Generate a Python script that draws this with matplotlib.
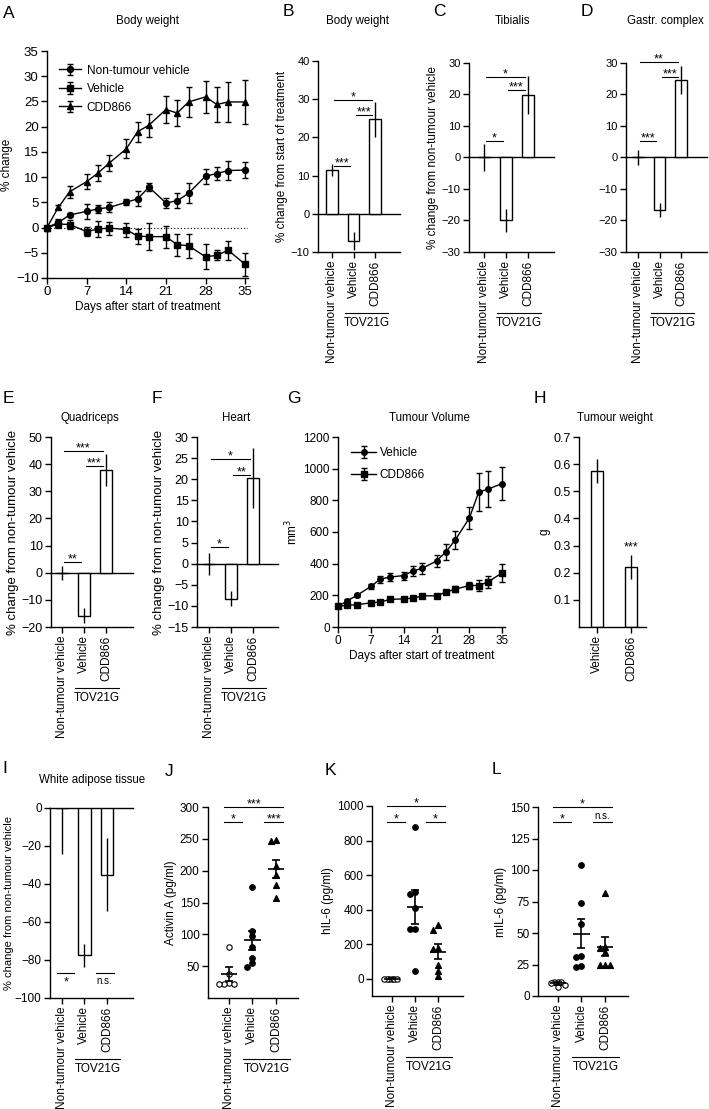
import numpy as np
import matplotlib
matplotlib.use('Agg')
import matplotlib.pyplot as plt
from matplotlib.transforms import offset_copy

plt.rcParams['font.family'] = ['Liberation Sans', 'DejaVu Sans']
plt.rcParams['axes.linewidth'] = 1.0
plt.rcParams['xtick.major.width'] = 1.0
plt.rcParams['ytick.major.width'] = 1.0

# ---------------- data ----------------
groups = ['Non-tumour vehicle', 'Vehicle', 'CDD866']

days = [0, 2, 4, 7, 9, 11, 14, 16, 18, 21, 23, 25, 28, 30, 32, 35]
bw_nontumour = [0, 1.0, 2.5, 3.2, 3.7, 4.0, 5.0, 5.7, 8.0, 4.9, 5.3, 6.8, 10.2, 10.7, 11.3, 11.4]
bw_nontumour_sem = [0.3, 0.6, 0.3, 1.5, 0.8, 1.0, 0.6, 1.5, 0.8, 1.0, 1.5, 2.0, 1.5, 1.3, 1.8, 1.5]
bw_vehicle = [0, 0.7, 0.6, -0.8, -0.3, -0.1, -0.4, -1.7, -1.8, -1.8, -3.4, -3.6, -5.8, -5.5, -4.5, -7.3]
bw_vehicle_sem = [0.3, 0.7, 0.8, 0.9, 1.6, 1.3, 1.4, 1.5, 2.7, 2.2, 2.2, 2.4, 2.5, 1.0, 1.9, 2.3]
bw_cdd866 = [0, 4.0, 7.1, 9.1, 10.8, 12.8, 15.6, 19.0, 20.3, 23.4, 22.7, 24.9, 25.9, 24.4, 24.9, 24.9]
bw_cdd866_sem = [0.2, 0.4, 1.2, 1.5, 1.6, 1.5, 1.9, 2.0, 2.3, 2.6, 2.5, 3.0, 3.1, 3.5, 3.9, 4.4]

tv_vehicle = [130, 166, 199, 256, 302, 315, 325, 354, 371, 417, 474, 550, 688, 852, 871, 906]
tv_vehicle_sem = [10, 10, 10, 15, 22, 25, 25, 30, 35, 40, 48, 55, 68, 120, 115, 103]
tv_cdd866 = [130, 138, 140, 153, 157, 174, 178, 182, 197, 197, 220, 239, 262, 262, 285, 342]
tv_cdd866_sem = [8, 8, 8, 8, 8, 10, 10, 10, 12, 12, 12, 18, 25, 35, 40, 55]

bw_end = [11.5, -7.1, 24.7]
bw_end_sem = [1.5, 2.4, 4.5]
tibialis = [0, -20.0, 19.8]
tibialis_sem = [4.2, 3.8, 6.0]
gastr = [0, -16.7, 24.5]
gastr_sem = [2.4, 2.2, 4.5]
quadriceps = [0, -15.8, 37.8]
quadriceps_sem = [2.5, 2.7, 6.0]
heart = [0, -8.3, 20.3]
heart_sem = [2.6, 1.8, 7.0]
wat = [0, -77.5, -35.0]
wat_sem = [24.0, 6.0, 19.0]

tumour_groups = ['Vehicle', 'CDD866']
tumour_weight = [0.575, 0.222]
tumour_weight_sem = [0.045, 0.045]

activin = [[80, 38, 24, 22, 22, 22],
           [175, 106, 98, 80, 63, 55, 49],
           [248, 247, 208, 193, 178, 157]]
activin_mean = [37, 91, 202]
activin_sem = [11, 15, 14]

hil6 = [[0, 0, 0, 0, 0, 0],
        [880, 505, 490, 410, 290, 290, 45],
        [310, 285, 180, 175, 80, 45, 15]]
hil6_mean = [0, 414, 157]
hil6_sem = [2, 100, 43]

mil6 = [[11, 11, 11, 10, 9, 7],
        [104, 74, 57, 32, 31, 24, 23],
        [82, 39, 38, 35, 25, 25, 25]]
mil6_mean = [10, 49.5, 39]
mil6_sem = [1, 11.5, 7.5]

# significance: (group i, group j, y, label)
sig_bw = [(0, 1, 12.6, '***'), (1, 2, 25.9, '***'), (0, 2, 29.8, '*')]
sig_tib = [(0, 1, 5.1, '*'), (1, 2, 21.3, '***'), (0, 2, 25.6, '*')]
sig_gas = [(0, 1, 5.1, '***'), (1, 2, 25.6, '***'), (0, 2, 30.3, '**')]
sig_quad = [(0, 1, 4.0, '**'), (1, 2, 39.3, '***'), (0, 2, 44.7, '***')]
sig_heart = [(0, 1, 4.0, '*'), (1, 2, 21.1, '**'), (0, 2, 24.7, '*')]
sig_wat = [(0, 1, -87, '*'), (1, 2, -87, 'n.s.')]
sig_act = [(0, 1, 276, '*'), (1, 2, 276, '***'), (0, 2, 300, '***')]
sig_hil6 = [(0, 1, 909, '*'), (1, 2, 909, '*'), (0, 2, 1000, '*')]
sig_mil6 = [(0, 1, 138, '*'), (1, 2, 138, 'n.s.'), (0, 2, 150, '*')]

# ---------------- figure ----------------
W, H = 709, 1109
fig = plt.figure(figsize=(W / 100, H / 100), dpi=100)


def px_ax(l, t, r, b):
    return fig.add_axes([l / W, 1 - b / H, (r - l) / W, (b - t) / H])


def style(ax, fs):
    ax.spines['top'].set_visible(False)
    ax.spines['right'].set_visible(False)
    ax.tick_params(direction='out', length=4, labelsize=fs, pad=2)


def letter(x, y, s):
    fig.text(x / W, 1 - y / H, s, fontsize=12.5, va='baseline', ha='left')


def title(x, y, s):
    fig.text(x / W, 1 - y / H, s, fontsize=8.3, va='baseline', ha='center')


def tov(ax):
    tr = offset_copy(ax.get_xaxis_transform(), fig=fig, y=-44, units='points')
    ax.plot([0.6, 2.6], [0, 0], color='k', lw=0.8, transform=tr, clip_on=False)
    tr2 = offset_copy(ax.get_xaxis_transform(), fig=fig, y=-46.5, units='points')
    ax.text(1.6, 0, 'TOV21G', transform=tr2, ha='center', va='top', fontsize=8.5)


def brackets(ax, sigs, kind='bar', below=False):
    for i, j, y, s in sigs:
        if kind == 'bar':
            x0, x1 = i + 0.1, j - 0.15
        else:
            x0 = i - 0.2 if i == 0 else i + 0.5
            x1 = j + 0.3 if j == 2 else j - 0.45
        ax.plot([x0, x1], [y, y], color='k', lw=0.8, clip_on=False)
        fs = 7 if s == 'n.s.' else 9
        if below:
            ax.annotate(s, ((x0 + x1) / 2, y), xytext=(0, -2), textcoords='offset points',
                        ha='center', va='top', fontsize=fs, annotation_clip=False)
        else:
            ax.annotate(s, ((x0 + x1) / 2, y), xytext=(0, -2.5 if '*' in s else 0.5),
                        textcoords='offset points', ha='center', va='bottom',
                        fontsize=fs, annotation_clip=False)


def bar_panel(box, xl, ylim, yticks, vals, errs, ylabel, fs, lfs, sigs, below=False, kind='bar'):
    ax = px_ax(*box)
    x = np.arange(len(vals))
    ax.bar(x, vals, width=0.55, color='white', edgecolor='k', linewidth=1.0, zorder=2)
    ax.errorbar(x, vals, yerr=errs, fmt='none', ecolor='k', elinewidth=1.0, capsize=0, zorder=3)
    ax.axhline(0, color='k', lw=1.0, zorder=1, clip_on=False)
    ax.set_xlim(*xl)
    ax.set_ylim(*ylim)
    ax.set_yticks(yticks)
    ax.set_xticks(x)
    ax.set_xticklabels(groups, rotation=90)
    ax.set_ylabel(ylabel, fontsize=lfs, labelpad=2)
    style(ax, fs)
    ax.tick_params(axis='x', labelsize=8.5)
    brackets(ax, sigs, kind=kind, below=below)
    tov(ax)
    return ax


def swarm_x(ax, x0, vals, d):
    pts, xs = [], []
    inv = ax.transData.inverted()
    for v in vals:
        X0, Y = ax.transData.transform((x0, v))
        for k in (0, -1, 1, -2, 2, -3, 3):
            X = X0 + k * d
            if all((X - a) ** 2 + (Y - b) ** 2 >= d * d * 0.9 for a, b in pts):
                break
        pts.append((X, Y))
        xs.append(inv.transform((X, Y))[0])
    return xs


def dot_panel(box, xl, ylim, yticks, pts, means, sems, ylabel, sigs, d0=5.0):
    ax = px_ax(*box)
    ax.set_xlim(*xl)
    ax.set_ylim(*ylim)
    ax.set_yticks(yticks)
    styles = [dict(marker='o', facecolors='white', edgecolors='k', s=15, linewidths=0.8),
              dict(marker='o', c='k', s=15),
              dict(marker='^', c='k', s=17)]
    for i, vals in enumerate(pts):
        d = d0 if i == 0 else 5.0
        xs = swarm_x(ax, i, vals, d)
        ax.scatter(xs, vals, zorder=3, clip_on=False, **styles[i])
        ax.hlines(means[i], i - 0.35, i + 0.35, color='k', lw=1.2, zorder=4)
        ax.errorbar(i, means[i], yerr=sems[i], fmt='none', ecolor='k', elinewidth=1.2,
                    capsize=2.9, capthick=1.2, zorder=4)
    ax.set_xticks(range(3))
    ax.set_xticklabels(groups, rotation=90)
    ax.set_ylabel(ylabel, fontsize=8.5, labelpad=2)
    style(ax, 8.5)
    ax.tick_params(axis='x', labelsize=8.5)
    brackets(ax, sigs, kind='dot')
    tov(ax)
    return ax


# ---- A: body weight time course ----
axA = px_ax(47, 51, 248, 278)
ek = dict(color='k', lw=1.0, elinewidth=1.0, capsize=2.5, capthick=1.0, clip_on=False)
axA.errorbar(days, bw_nontumour, yerr=bw_nontumour_sem, marker='o', ms=4.3, label='Non-tumour vehicle', **ek)
axA.errorbar(days, bw_vehicle, yerr=bw_vehicle_sem, marker='s', ms=4.4, label='Vehicle', **ek)
axA.errorbar(days, bw_cdd866, yerr=bw_cdd866_sem, marker='^', ms=4.8, label='CDD866', **ek)
axA.axhline(0, color='k', lw=0.8, ls=(0, (1, 2)), zorder=0)
axA.set_xlim(0, 35.5)
axA.set_ylim(-10, 35)
axA.set_yticks(range(-10, 36, 5))
axA.set_xticks(range(0, 36, 7))
style(axA, 9.5)
axA.set_ylabel('% change', fontsize=8.5, labelpad=2)
axA.set_xlabel('Days after start of treatment', fontsize=8.5, labelpad=2)
axA.legend(loc='upper left', bbox_to_anchor=(0.06, 0.94), frameon=False, fontsize=8.5,
           handlelength=1.9, handletextpad=0.45, labelspacing=0.55, borderpad=0, borderaxespad=0)

# ---- B, C, D ----
bar_panel((318, 61, 400, 252), (-0.65, 3.16), (-10, 40), range(-10, 41, 10), bw_end, bw_end_sem,
          '% change from start of treatment', 8, 8.5, sig_bw)
bar_panel((469, 63, 554, 252), (-0.68, 3.18), (-30, 30), range(-30, 31, 10), tibialis, tibialis_sem,
          '% change from non-tumour vehicle', 8, 8.5, sig_tib)
bar_panel((626, 63, 707, 252), (-0.56, 3.21), (-30, 30), range(-30, 31, 10), gastr, gastr_sem,
          '', 8, 8.5, sig_gas)

# ---- E, F ----
bar_panel((51, 437, 133, 627), (-0.5, 3.23), (-20, 50), range(-20, 51, 10), quadriceps, quadriceps_sem,
          '% change from non-tumour vehicle', 9, 9.5, sig_quad)
bar_panel((197, 437, 278, 627), (-0.55, 3.14), (-15, 30), range(-15, 31, 5), heart, heart_sem,
          '% change from non-tumour vehicle', 9, 9.5, sig_heart)

# ---- G: tumour volume ----
axG = px_ax(338, 437, 505, 627)
axG.errorbar(days, tv_vehicle, yerr=tv_vehicle_sem, marker='o', ms=4, label='Vehicle', **ek)
axG.errorbar(days, tv_cdd866, yerr=tv_cdd866_sem, marker='s', ms=4.2, label='CDD866', **ek)
axG.set_xlim(0, 35.6)
axG.set_ylim(0, 1200)
axG.set_yticks(range(0, 1201, 200))
axG.set_xticks(range(0, 36, 7))
style(axG, 8.5)
axG.set_ylabel('mm$^3$', fontsize=8.5, labelpad=2)
axG.set_xlabel('Days after start of treatment', fontsize=8.5, labelpad=2)
axG.legend(loc='upper left', bbox_to_anchor=(0.08, 0.945), frameon=False, fontsize=8.5,
           handlelength=2.1, handletextpad=0.3, labelspacing=0.8, borderpad=0, borderaxespad=0)

# ---- H: tumour weight ----
axH = px_ax(579, 437, 646, 627)
xh = np.arange(len(tumour_weight))
axH.bar(xh, tumour_weight, width=0.37, color='white', edgecolor='k', linewidth=1.0, zorder=2)
axH.errorbar(xh, tumour_weight, yerr=tumour_weight_sem, fmt='none', ecolor='k', elinewidth=1.0, zorder=3)
axH.set_xlim(-0.53, 1.44)
axH.set_ylim(0, 0.7)
axH.set_yticks(np.arange(1, 8) / 10)
axH.set_xticks(xh)
axH.set_xticklabels(tumour_groups, rotation=90)
axH.set_ylabel('g', fontsize=8.5, labelpad=2)
style(axH, 9)
axH.tick_params(axis='x', labelsize=8.5)
axH.annotate('***', (1, tumour_weight[1] + tumour_weight_sem[1]), xytext=(0, 0.5),
             textcoords='offset points', ha='center', va='bottom', fontsize=9)

# ---- I: white adipose tissue ----
axI = bar_panel((50, 808, 133, 998), (-0.53, 3.16), (-100, 0), range(-100, 1, 20), wat, wat_sem,
                '% change from non-tumour vehicle', 8.5, 8, sig_wat, below=True, kind='dot')
axI.yaxis.labelpad = 1

# ---- J, K, L ----
dot_panel((208, 807, 298, 998), (-0.89, 2.94), (0, 300), range(50, 301, 50), activin, activin_mean,
          activin_sem, 'Activin A (pg/ml)', sig_act)
dot_panel((372, 806, 463, 996), (-0.87, 3.09), (-100, 1000), range(0, 1001, 200), hil6, hil6_mean,
          hil6_sem, 'hIL-6 (pg/ml)', sig_hil6, d0=2.5)
dot_panel((538, 807, 628, 996), (-0.85, 2.98), (0, 150), range(0, 151, 25), mil6, mil6_mean,
          mil6_sem, 'mIL-6 (pg/ml)', sig_mil6, d0=3.5)

# ---- panel letters & titles ----
for s, x, y in [('A', 3, 18), ('B', 283, 16), ('C', 433, 16), ('D', 581, 16),
                ('E', 3, 403), ('F', 152, 403), ('G', 287, 403), ('H', 534, 403),
                ('I', 2, 773), ('J', 165, 776), ('K', 325, 775), ('L', 492, 774)]:
    letter(x, y, s)

for s, x, y in [('Body weight', 147, 24), ('Body weight', 357, 24), ('Tibialis', 512, 24),
                ('Gastr. complex', 665, 24), ('Quadriceps', 90, 421), ('Heart', 236, 421),
                ('Tumour Volume', 429, 421), ('Tumour weight', 615, 421),
                ('White adipose tissue', 92, 783)]:
    title(x, y, s)

fig.savefig('out.png', dpi=100)
